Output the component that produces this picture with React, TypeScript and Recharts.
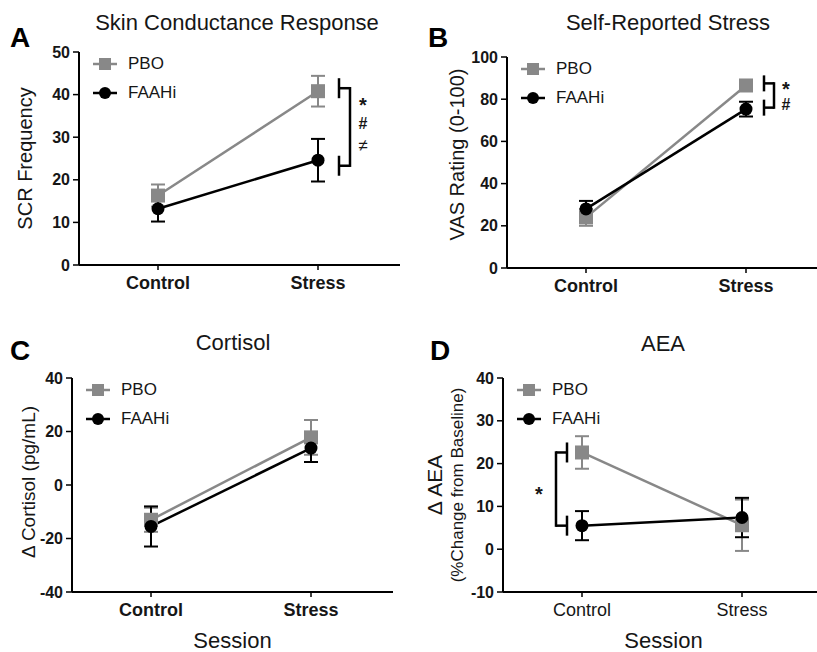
import React from 'react';
import { LineChart, Line, XAxis, YAxis, ErrorBar, Legend, ReferenceLine } from 'recharts';

const sessions = ['Control', 'Stress'];

// A - skin conductance response (mean, SEM)
const scrPbo = [16.3, 40.8];
const scrPboSem = [2.6, 3.6];
const scrFaah = [13.2, 24.6];
const scrFaahSem = [3.0, 5.0];
const scrTicks = [0, 10, 20, 30, 40, 50];
const scrBracket = [41.5, 23.3];

// B - self-reported stress (VAS)
const vasPbo = [24.0, 86.5];
const vasPboSem = [4.0, 1.5];
const vasFaah = [28.0, 75.3];
const vasFaahSem = [3.8, 3.5];
const vasTicks = [0, 20, 40, 60, 80, 100];
const vasBracket = [87.5, 76.0];

// C - cortisol
const cortPbo = [-13.0, 17.8];
const cortPboSem = [4.5, 6.5];
const cortFaah = [-15.5, 13.8];
const cortFaahSem = [7.5, 5.2];
const cortTicks = [-40, -20, 0, 20, 40];

// D - AEA
const aeaPbo = [22.6, 5.6];
const aeaPboSem = [3.8, 6.0];
const aeaFaah = [5.5, 7.4];
const aeaFaahSem = [3.4, 4.6];
const aeaTicks = [-10, 0, 10, 20, 30, 40];
const aeaBracket = [22.6, 5.5];

const groupOrder = ['PBO', 'FAAHi'];

const FONT = '"Liberation Sans", Arial, sans-serif';
const GRAY = '#888888';
const INK = '#161616';

const PLOT_LEFT = 80;
const PLOT_TOP = 60;
const PLOT_W = 321;
const Y_AXIS_W = 60;
const X_AXIS_H = 70;

const rows = (pbo: number[], pboSem: number[], faah: number[], faahSem: number[]) =>
  sessions.map((session, i) => ({
    session,
    pbo: pbo[i],
    pboErr: pboSem[i],
    faah: faah[i],
    faahErr: faahSem[i],
  }));

const squareDot = (props: any) => {
  const { cx, cy, index } = props;
  return <rect key={`sq-${index}`} x={cx - 7} y={cy - 7} width={14} height={14} fill={GRAY} />;
};

const circleDot = (props: any) => {
  const { cx, cy, index } = props;
  return <circle key={`ci-${index}`} cx={cx} cy={cy} r={6.5} fill="#000" />;
};

const legendContent = (props: any) => {
  const payload = [...(props.payload || [])].sort(
    (a: any, b: any) => groupOrder.indexOf(a.value) - groupOrder.indexOf(b.value)
  );
  return (
    <div style={{ fontFamily: FONT, fontSize: 17, color: INK }}>
      {payload.map((entry: any) => {
        const isPbo = entry.value === 'PBO';
        const col = isPbo ? GRAY : '#000';
        return (
          <div key={entry.value} style={{ display: 'flex', alignItems: 'center', height: 29 }}>
            <svg width={26} height={20} style={{ display: 'block' }}>
              <line x1={1} y1={10} x2={25} y2={10} stroke={col} strokeWidth={2.5} />
              {isPbo ? (
                <rect x={7} y={4} width={12} height={12} fill={col} />
              ) : (
                <circle cx={13} cy={10} r={6} fill={col} />
              )}
            </svg>
            <span style={{ marginLeft: 10 }}>{entry.value}</span>
          </div>
        );
      })}
    </div>
  );
};

const yLabelContent = (lines: { text: string; dx: number; size: number }[], dy: number) => (props: any) => {
  const { viewBox } = props;
  const left = viewBox.x + viewBox.width;
  const cy = viewBox.y + viewBox.height / 2 + dy;
  return (
    <g>
      {lines.map((l, i) => {
        const cx = left + l.dx;
        return (
          <text
            key={i}
            x={cx}
            y={cy}
            transform={`rotate(-90 ${cx} ${cy})`}
            textAnchor="middle"
            dominantBaseline="central"
            fontSize={l.size}
            fontFamily={FONT}
            fill={INK}
          >
            {l.text}
          </text>
        );
      })}
    </g>
  );
};

const sessionLabel = (props: any) => {
  const { viewBox } = props;
  return (
    <text
      x={viewBox.x + viewBox.width / 2}
      y={viewBox.y + 56}
      textAnchor="middle"
      fontSize={22}
      fontFamily={FONT}
      fill={INK}
    >
      Session
    </text>
  );
};

type Mark = { text: string; dx: number; dy: number; size: number; bold?: boolean };

// bracket drawn next to a pair of points: caps at capOff, joining bar at joinOff
const bracketShape = (capOff: number, joinOff: number, capHalf: number, marks: Mark[]) => (props: any) => {
  const { x1, y1, y2 } = props;
  const cx = x1 + capOff;
  const jx = x1 + joinOff;
  const mid = (y1 + y2) / 2;
  const s = { stroke: '#000', strokeWidth: 2.5 };
  return (
    <g>
      <line x1={cx} y1={y1 - capHalf} x2={cx} y2={y1 + capHalf} {...s} />
      <line x1={cx} y1={y2 - capHalf} x2={cx} y2={y2 + capHalf} {...s} />
      <line x1={cx} y1={y1} x2={jx} y2={y1} {...s} />
      <line x1={cx} y1={y2} x2={jx} y2={y2} {...s} />
      <line x1={jx} y1={y1 - 1.2} x2={jx} y2={y2 + 1.2} {...s} />
      {marks.map((m, i) => (
        <text
          key={i}
          x={x1 + m.dx}
          y={mid + m.dy}
          textAnchor="middle"
          fontSize={m.size}
          fontWeight={m.bold ? 'bold' : 'normal'}
          fontFamily={FONT}
          fill={INK}
        >
          {m.text}
        </text>
      ))}
    </g>
  );
};

interface PanelProps {
  px: number;
  py: number;
  ph: number;
  data: any[];
  ticks: number[];
  boldCats: boolean;
  yLabel: (props: any) => any;
  session?: boolean;
  bracket?: { at: string; values: number[]; shape: (props: any) => any };
}

function Panel({ px, py, ph, data, ticks, boldCats, yLabel, session, bracket }: PanelProps) {
  const width = PLOT_LEFT + PLOT_W + 15;
  const height = PLOT_TOP + ph + X_AXIS_H + 5;
  return (
    <div style={{ position: 'absolute', left: px - PLOT_LEFT, top: py - PLOT_TOP }}>
      <LineChart
        width={width}
        height={height}
        data={data}
        margin={{ top: PLOT_TOP, right: 15, bottom: 5, left: PLOT_LEFT - Y_AXIS_W }}
      >
        <XAxis
          dataKey="session"
          height={X_AXIS_H}
          padding={{ left: 79, right: 82 }}
          stroke="#000"
          strokeWidth={2}
          tickSize={5}
          tickMargin={6}
          tickLine={{ stroke: '#000', strokeWidth: 1.5 }}
          tick={{ fontSize: 18, fontWeight: boldCats ? 'bold' : 'normal', fill: INK, fontFamily: FONT }}
          label={session ? sessionLabel : undefined}
        />
        <YAxis
          type="number"
          width={Y_AXIS_W}
          domain={[ticks[0], ticks[ticks.length - 1]]}
          ticks={ticks}
          interval={0}
          allowDataOverflow
          stroke="#000"
          strokeWidth={2}
          tickSize={6}
          tickMargin={3}
          tickLine={{ stroke: '#000', strokeWidth: 1.5 }}
          tick={{ fontSize: 16, fontWeight: 'bold', fill: INK, fontFamily: FONT }}
          label={yLabel}
        />
        <Legend
          layout="vertical"
          verticalAlign="middle"
          align="center"
          content={legendContent}
          wrapperStyle={{ left: PLOT_LEFT + 26 - 13, top: PLOT_TOP + 12 - 14.5, width: 120 }}
        />
        <Line
          dataKey="pbo"
          name="PBO"
          stroke={GRAY}
          strokeWidth={2.5}
          dot={squareDot}
          activeDot={false}
          isAnimationActive={false}
        >
          <ErrorBar dataKey="pboErr" direction="y" width={7} stroke={GRAY} strokeWidth={2} isAnimationActive={false} />
        </Line>
        <Line
          dataKey="faah"
          name="FAAHi"
          stroke="#000"
          strokeWidth={2.5}
          dot={circleDot}
          activeDot={false}
          isAnimationActive={false}
        >
          <ErrorBar dataKey="faahErr" direction="y" width={7} stroke="#000" strokeWidth={2} isAnimationActive={false} />
        </Line>
        {bracket && (
          <ReferenceLine
            ifOverflow="visible"
            segment={[
              { x: bracket.at, y: bracket.values[0] },
              { x: bracket.at, y: bracket.values[1] },
            ]}
            shape={bracket.shape}
          />
        )}
      </LineChart>
    </div>
  );
}

const titleStyle = { fontFamily: FONT, fontSize: 22, fill: INK };
const letterStyle = { fontFamily: FONT, fontSize: 28, fontWeight: 'bold' as const, fill: '#000' };

export default function App() {
  return (
    <div
      style={{
        position: 'absolute',
        left: 0,
        top: 0,
        width: 817,
        height: 652,
        overflow: 'hidden',
        background: '#fff',
      }}
    >
      <svg width={817} height={652} style={{ position: 'absolute', left: 0, top: 0 }}>
        <text x={10} y={47} style={letterStyle}>A</text>
        <text x={428} y={47} style={letterStyle}>B</text>
        <text x={10} y={360} style={letterStyle}>C</text>
        <text x={430} y={360} style={letterStyle}>D</text>
        <text x={237} y={30} textAnchor="middle" style={titleStyle}>Skin Conductance Response</text>
        <text x={668} y={30} textAnchor="middle" style={titleStyle}>Self-Reported Stress</text>
        <text x={233} y={350} textAnchor="middle" style={titleStyle}>Cortisol</text>
        <text x={663} y={351} textAnchor="middle" style={titleStyle}>AEA</text>
      </svg>

      <Panel
        px={79}
        py={52}
        ph={213}
        data={rows(scrPbo, scrPboSem, scrFaah, scrFaahSem)}
        ticks={scrTicks}
        boldCats
        yLabel={yLabelContent([{ text: 'SCR Frequency', dx: -54, size: 20 }], 0)}
        bracket={{
          at: 'Stress',
          values: scrBracket,
          shape: bracketShape(21, 32, 10, [
            { text: '*', dx: 45, dy: -15, size: 20, bold: true },
            { text: '#', dx: 45, dy: 2, size: 16, bold: true },
            { text: '≠', dx: 45, dy: 24, size: 17 },
          ]),
        }}
      />
      <Panel
        px={507}
        py={57}
        ph={211}
        data={rows(vasPbo, vasPboSem, vasFaah, vasFaahSem)}
        ticks={vasTicks}
        boldCats
        yLabel={yLabelContent([{ text: 'VAS Rating (0-100)', dx: -50, size: 20 }], -8)}
        bracket={{
          at: 'Stress',
          values: vasBracket,
          shape: bracketShape(18, 28, 8, [
            { text: '*', dx: 40, dy: 0, size: 20, bold: true },
            { text: '#', dx: 40, dy: 14, size: 16, bold: true },
          ]),
        }}
      />
      <Panel
        px={72}
        py={378}
        ph={214}
        data={rows(cortPbo, cortPboSem, cortFaah, cortFaahSem)}
        ticks={cortTicks}
        boldCats
        session
        yLabel={yLabelContent([{ text: 'Δ Cortisol (pg/mL)', dx: -44, size: 19 }], -3)}
      />
      <Panel
        px={503}
        py={378}
        ph={214}
        data={rows(aeaPbo, aeaPboSem, aeaFaah, aeaFaahSem)}
        ticks={aeaTicks}
        boldCats={false}
        session
        yLabel={yLabelContent(
          [
            { text: 'Δ AEA', dx: -69, size: 21 },
            { text: '(%Change from Baseline)', dx: -46, size: 17 },
          ],
          0
        )}
        bracket={{
          at: 'Control',
          values: aeaBracket,
          shape: bracketShape(-15, -26, 10, [{ text: '*', dx: -43, dy: 12, size: 20, bold: true }]),
        }}
      />
    </div>
  );
}
